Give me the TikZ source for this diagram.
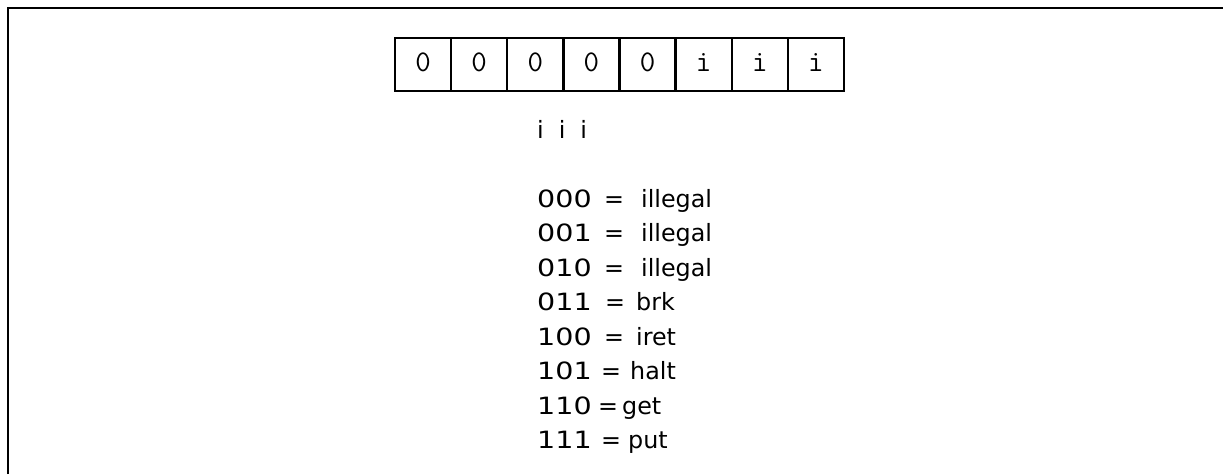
\documentclass[tikz,border=0pt]{standalone}
\usepackage{fontspec}
\setmainfont{DejaVu Sans}
\setmonofont{Latin Modern Mono}
\newfontfamily\digitfont[FakeStretch=1.2]{DejaVu Sans}
\begin{document}
\begin{tikzpicture}[x=1pt,y=-1pt,
  font=\fontsize{23.8}{28}\selectfont,
  cell/.style={draw,line width=2.4pt,minimum width=56.1pt,minimum height=53pt,inner sep=0pt,
    text height=18pt,text depth=5pt,font=\ttfamily\fontsize{30}{34}\selectfont},
  txt/.style={anchor=base west,inner sep=0pt}]
\useasboundingbox (0,0) rectangle (1223,474);
\draw[line width=2pt] (7.5,474) -- (7.5,7.5) -- (1223,7.5);
\foreach \t [count=\k] in {0,0,0,0,0,i,i,i}
  \node[cell] (c\k) at ({395+56.125*(\k-0.5)},64.5) {\t};
\node[txt] (iii) at (537,138) {\spaceskip=15pt i i i};
\foreach \d/\ex/\wx/\w [count=\k] in {000/604/641/illegal,001/604/641/illegal,010/604/641/illegal,
   011/605/636/brk,100/604/636/iret,101/601/630/halt,110/598/622/get,111/601/628/put}
{
  \node[txt] (d\k) at (537,{207+34.57*(\k-1)}) {\digitfont \d};
  \node[txt] (e\k) at (\ex,{207+34.57*(\k-1)}) {=};
  \node[txt] (w\k) at (\wx,{207+34.57*(\k-1)}) {\w};
}
\end{tikzpicture}
\end{document}
